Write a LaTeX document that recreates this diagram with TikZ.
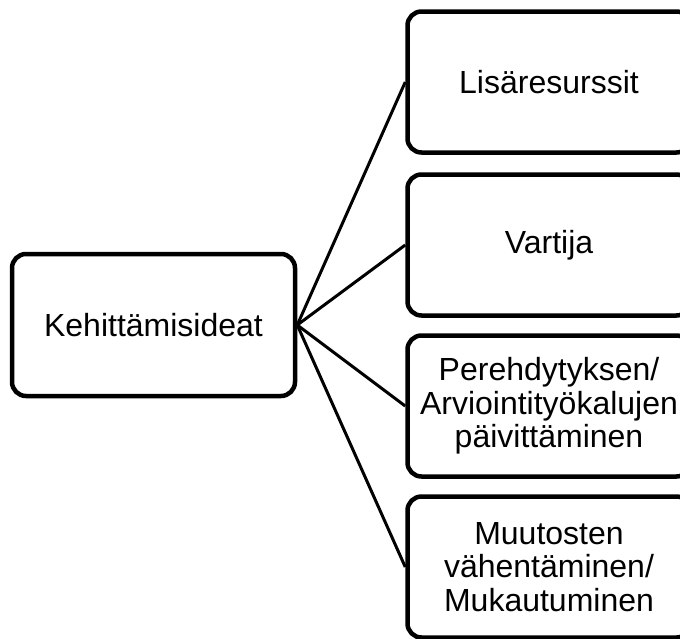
\documentclass[tikz,border=0pt]{standalone}
\usepackage{fontspec}
\setmainfont{Liberation Sans}
\begin{document}
\begin{tikzpicture}[x=1pt,y=-1pt,
  idea/.style={draw=black, line width=4.5pt, rounded corners=14pt, fill=white,
    minimum width=283pt, minimum height=141pt, align=center,
    font=\fontsize{32}{33.5}\selectfont, inner sep=0pt},
  link/.style={draw=black, line width=3pt}]
  \useasboundingbox (0,0) rectangle (680,638);
  \clip (0,0) rectangle (680,638);
  % root box and the four ideas branching from it
  \node[idea, minimum height=142pt] (root) at (153.5,325) {Kehittämisideat};
  \node[idea] (a) at (549,82) {Lisäresurssit};
  \node[idea] (b) at (549,245) {Vartija};
  \node[idea] (c) at (549,406) {Perehdytyksen/\\Arviointityökalujen\\päivittäminen};
  \node[idea] (d) at (549,567) {Muutosten\\vähentäminen/\\Mukautuminen};
  \foreach \t in {a,b,c,d}
    \draw[link] (root.east) -- (\t.west);
\end{tikzpicture}
\end{document}
